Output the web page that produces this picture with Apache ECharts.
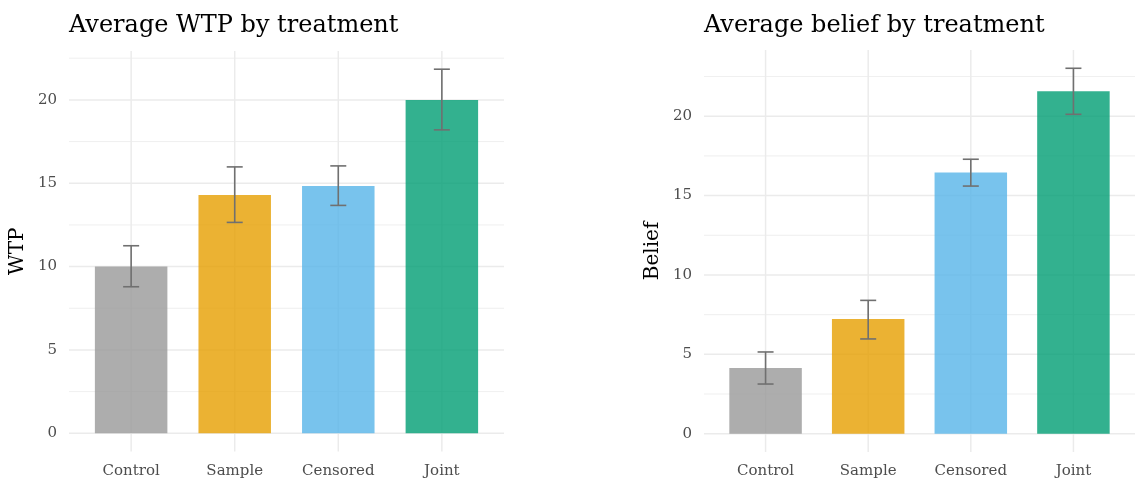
<!DOCTYPE html>
<html>
<head>
<meta charset="utf-8">
<script src="https://cdn.jsdelivr.net/npm/echarts@6/dist/echarts.min.js"></script>
<style>
  html, body {margin: 0; padding: 0; background: #fff;}
  #chart {width: 1135px; height: 481px;}
</style>
</head>
<body>
<div id="chart"></div>
<script>
// data
var categories = ['Control', 'Sample', 'Censored', 'Joint'];
var wtpMean = [10.0, 14.3, 14.84, 20.0];
var wtpLow = [8.79, 12.65, 13.67, 18.2];
var wtpHigh = [11.25, 15.98, 16.04, 21.84];
var beliefMean = [4.14, 7.23, 16.46, 21.57];
var beliefLow = [3.13, 5.97, 15.6, 20.12];
var beliefHigh = [5.15, 8.4, 17.29, 23.02];
var yMajorTicks = [0, 5, 10, 15, 20];
var yMinorTicks = [2.5, 7.5, 12.5, 17.5, 22.5];
var barColors = ['rgba(153,153,153,0.8)', 'rgba(230,159,0,0.8)', 'rgba(86,180,233,0.8)', 'rgba(0,158,115,0.8)'];

var FONT = '"DejaVu Serif", serif';
var chart = echarts.init(document.getElementById('chart'));

// ggplot-like 5% expansion of the y range
function yRange(high) {
    var top = Math.max.apply(null, high);
    return {min: -0.05 * top, max: top * 1.05};
}

function gridSeries(idx) {
    var items = [];
    yMajorTicks.forEach(function (v) { items.push([0, v, 1]); });
    yMinorTicks.forEach(function (v) { items.push([0, v, 0]); });
    categories.forEach(function (c, i) { items.push([1, i + 1, 1]); });
    return {
        type: 'custom', xAxisIndex: idx, yAxisIndex: idx, z: 0, silent: true,
        data: items,
        renderItem: function (params, api) {
            var cs = params.coordSys;
            var kind = api.value(0), v = api.value(1), major = api.value(2);
            var shape;
            if (kind === 0) {
                var y = api.coord([1, v])[1];
                shape = {x1: cs.x, y1: y, x2: cs.x + cs.width, y2: y};
            } else {
                var x = api.coord([v, 0])[0];
                shape = {x1: x, y1: cs.y, x2: x, y2: cs.y + cs.height};
            }
            return {
                type: 'line', shape: shape,
                style: {stroke: '#ebebeb', lineWidth: major ? 1.5 : 0.8}
            };
        }
    };
}

function barSeries(idx, means) {
    return {
        type: 'bar', xAxisIndex: idx, yAxisIndex: idx, z: 2, barWidth: 72.5,
        silent: true,
        data: means.map(function (m, i) {
            return {value: [i + 1, m], itemStyle: {color: barColors[i]}};
        })
    };
}

function errorSeries(idx, low, high) {
    return {
        type: 'custom', xAxisIndex: idx, yAxisIndex: idx, z: 3, silent: true,
        data: low.map(function (l, i) { return [i + 1, l, high[i]]; }),
        renderItem: function (params, api) {
            var lo = api.coord([api.value(0), api.value(1)]);
            var hi = api.coord([api.value(0), api.value(2)]);
            var w = 8;
            var st = {stroke: '#707070', lineWidth: 1.6};
            return {
                type: 'group',
                children: [
                    {type: 'line', shape: {x1: hi[0], y1: hi[1], x2: lo[0], y2: lo[1]}, style: st},
                    {type: 'line', shape: {x1: hi[0] - w, y1: hi[1], x2: hi[0] + w, y2: hi[1]}, style: st},
                    {type: 'line', shape: {x1: lo[0] - w, y1: lo[1], x2: lo[0] + w, y2: lo[1]}, style: st}
                ]
            };
        }
    };
}

function xAxis(idx) {
    return {
        type: 'value', gridIndex: idx, min: 0.4, max: 4.6,
        axisLine: {show: false}, axisTick: {show: false}, splitLine: {show: false},
        axisLabel: {
            customValues: [1, 2, 3, 4],
            formatter: function (v) { return categories[Math.round(v) - 1] || ''; },
            fontFamily: FONT, fontSize: 15, color: '#4d4d4d', margin: 12
        }
    };
}

function yAxis(idx, name, range) {
    return {
        type: 'value', gridIndex: idx, min: range.min, max: range.max,
        name: name, nameLocation: 'middle', nameGap: 41,
        nameTextStyle: {fontFamily: FONT, fontSize: 20, color: '#000'},
        axisLine: {show: false}, axisTick: {show: false}, splitLine: {show: false},
        axisLabel: {
            customValues: yMajorTicks,
            fontFamily: FONT, fontSize: 15, color: '#4d4d4d', margin: 12
        }
    };
}

var option = {
    animation: false,
    backgroundColor: '#fff',
    title: [
        {text: 'Average WTP by treatment', left: 64, top: 9,
         textStyle: {fontFamily: FONT, fontSize: 24, fontWeight: 'normal', color: '#000'}},
        {text: 'Average belief by treatment', left: 699, top: 9,
         textStyle: {fontFamily: FONT, fontSize: 24, fontWeight: 'normal', color: '#000'}}
    ],
    grid: [
        {left: 69, width: 435, top: 51, height: 400.5},
        {left: 704, width: 435, top: 50, height: 402}
    ],
    xAxis: [xAxis(0), xAxis(1)],
    yAxis: [yAxis(0, 'WTP', yRange(wtpHigh)), yAxis(1, 'Belief', yRange(beliefHigh))],
    series: [
        gridSeries(0), barSeries(0, wtpMean), errorSeries(0, wtpLow, wtpHigh),
        gridSeries(1), barSeries(1, beliefMean), errorSeries(1, beliefLow, beliefHigh)
    ]
};
chart.setOption(option);
</script>
</body>
</html>
